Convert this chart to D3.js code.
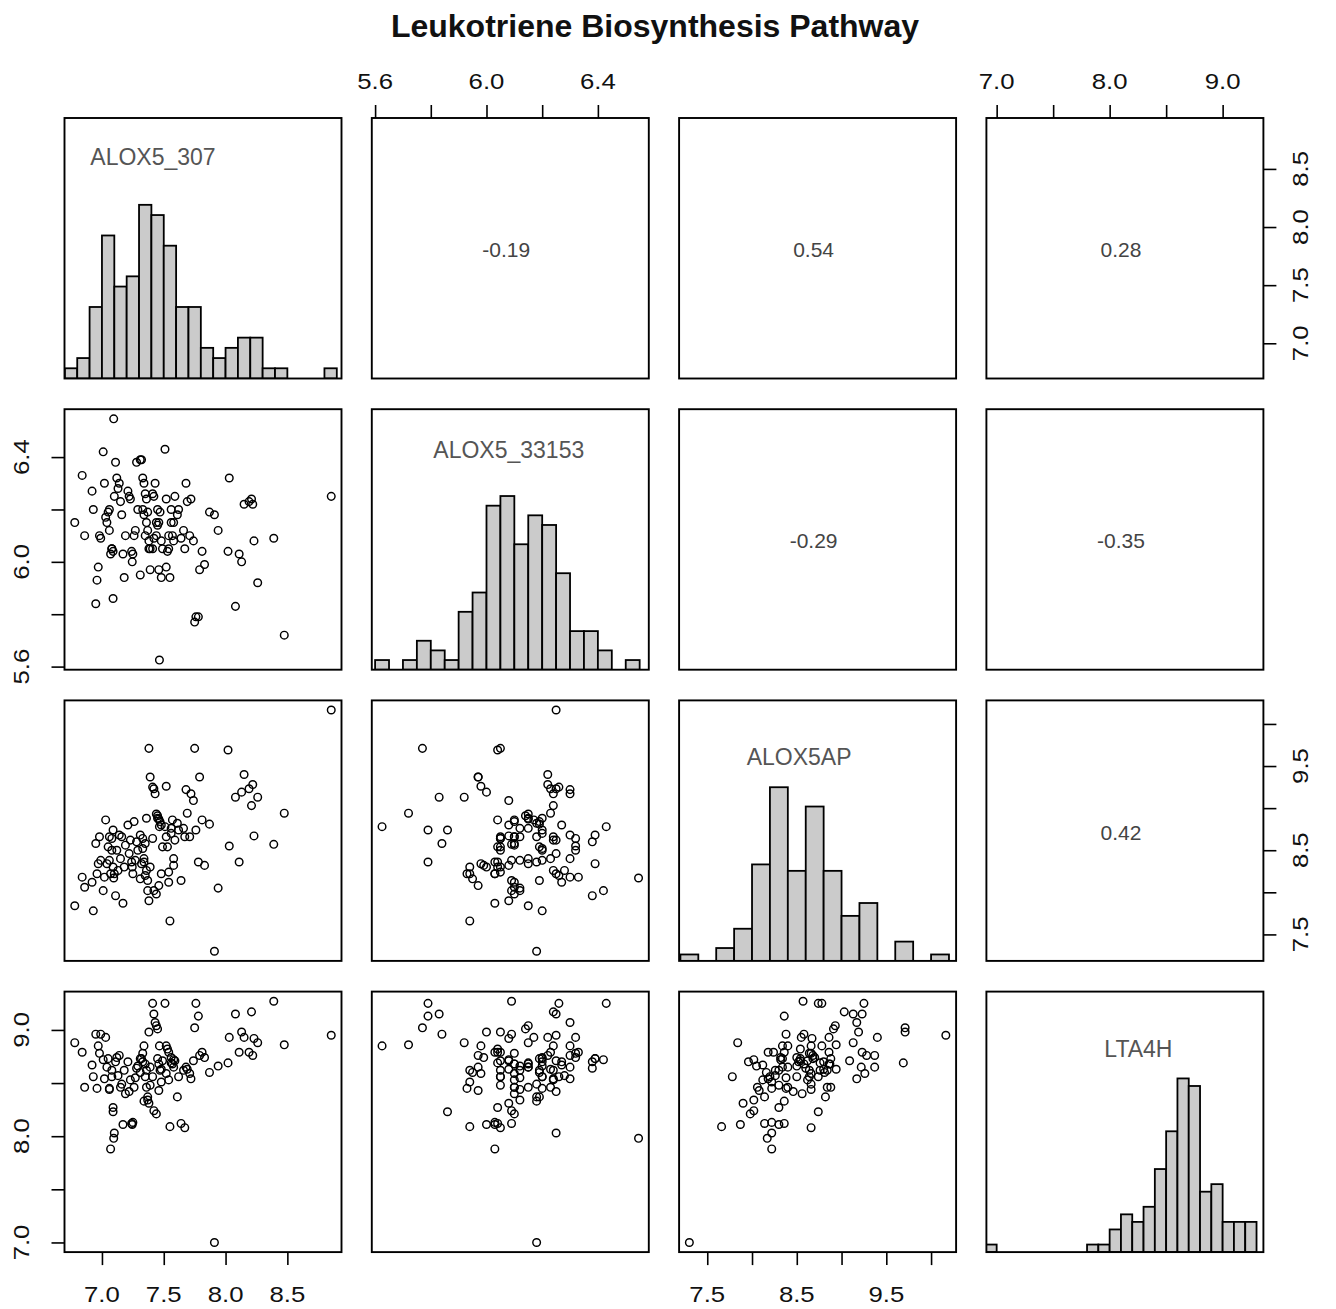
<!DOCTYPE html>
<html><head><meta charset="utf-8">
<script src="https://cdn.jsdelivr.net/npm/d3@7"></script>
<style>body{margin:0;background:#fff}</style>
</head><body>
<svg id="chart" width="1336" height="1309"></svg>
<script>
// ---------------- DATA ----------------
const varNames = ["ALOX5_307", "ALOX5_33153", "ALOX5AP", "LTA4H"];
const chartTitle = "Leukotriene Biosynthesis Pathway";

const alox5_307 = [6.78,6.84,6.86,6.92,6.93,6.95,6.96,6.97,6.98,6.99,
 7.01,7.02,7.03,7.04,7.05,7.06,7.07,7.08,7.08,7.09,7.09,7.095,7.06,7.10,
 7.11,7.12,7.13,7.14,7.15,7.16,7.17,7.18,7.19,
 7.21,7.22,7.23,7.24,7.245,7.25,7.26,7.27,7.28,7.29,
 7.31,7.32,7.33,7.34,7.35,7.36,7.37,7.37,7.38,7.38,7.39,7.39,7.31,7.33,7.35,7.36,7.34,
 7.465,7.41,7.42,7.43,7.44,7.45,7.46,7.47,7.48,7.49,7.42,7.44,7.46,7.48,7.41,7.45,
 7.51,7.52,7.53,7.54,7.55,7.56,7.57,7.58,7.59,7.52,7.54,7.56,7.58,
 7.61,7.62,7.64,7.66,7.67,7.68,7.69,
 7.75,7.72,7.74,7.76,7.78,7.79,7.71,
 7.81,7.83,7.87,7.91,7.94,8.02,8.03,8.08,
 8.11,8.13,8.15,8.19,8.21,8.23,8.26,8.22,8.39,8.475,8.855];

const alox5_33153 = [6.15,6.33,6.10,6.27,6.20,5.84,5.93,5.98,6.10,6.09,
 6.42,6.30,6.17,6.15,6.19,6.20,6.03,6.05,6.05,6.04,5.86,6.546,6.12,6.25,
 6.38,6.32,6.28,6.30,6.23,6.18,6.03,5.94,6.10,
 6.27,6.25,6.24,6.04,6.00,6.03,6.10,6.12,6.38,6.20,
 6.39,6.39,6.32,6.30,6.26,6.15,6.19,6.12,6.05,6.08,6.05,5.97,5.95,6.20,6.10,6.24,6.18,
 5.625,6.26,6.25,6.30,6.15,6.14,6.15,6.19,6.08,6.05,6.09,6.10,5.97,5.94,6.05,6.20,
 6.43,6.24,6.04,6.05,5.94,6.20,6.10,6.15,6.25,5.98,6.10,6.15,6.08,
 6.18,6.20,6.09,6.12,6.05,6.30,6.23,
 5.77,6.24,6.08,5.79,5.79,5.97,6.10,
 6.04,5.99,6.19,6.18,6.12,6.04,6.32,5.83,
 6.03,6.00,6.22,6.23,6.24,6.08,5.92,6.22,6.09,5.72,6.25];

const alox5ap = [7.84,8.18,8.06,8.12,7.78,8.58,8.22,8.34,8.66,8.38,
 8.02,8.18,8.86,8.34,8.54,8.38,8.22,8.64,8.50,8.30,8.74,8.17,8.66,8.22,
 7.96,8.50,8.26,8.68,8.40,8.66,7.87,8.30,8.56,
 8.80,8.46,8.62,8.36,8.30,8.22,8.84,8.38,8.60,8.50,
 8.68,8.34,8.64,8.40,8.20,8.88,8.14,8.02,9.71,7.90,8.30,9.37,8.16,8.52,8.58,8.26,8.36,
 8.78,9.25,9.23,9.17,8.93,8.91,8.87,8.84,8.80,8.54,8.02,7.98,8.08,8.22,8.64,8.88,
 8.78,8.66,8.54,8.24,7.66,8.70,8.86,8.40,8.62,9.26,8.12,8.76,8.32,
 8.82,8.74,8.14,8.76,8.66,9.22,8.94,
 9.71,9.17,9.09,8.74,8.36,9.37,8.66,
 8.86,8.32,8.81,7.30,8.05,9.69,8.55,9.13,
 8.36,9.19,9.40,9.23,9.03,8.67,9.13,9.28,8.57,8.94,10.165];

const lta4h = [8.88,8.79,8.46,8.67,8.56,8.96,8.45,8.85,8.78,8.96,
 8.72,8.54,8.93,8.65,8.73,8.45,7.88,8.62,8.56,8.27,8.23,7.98,8.44,8.03,
 8.70,8.74,8.57,8.76,8.46,8.49,8.11,8.62,8.40,
 8.70,8.42,8.53,8.12,8.11,8.13,8.46,8.55,8.64,8.66,
 8.73,8.73,8.78,8.85,8.56,8.46,8.37,8.34,8.98,8.31,8.48,8.65,8.60,8.70,8.68,8.62,8.33,
 8.85,9.25,9.15,9.07,9.04,9.01,8.68,8.62,8.63,8.71,8.24,8.21,8.43,8.51,8.56,8.73,
 9.25,8.85,8.82,8.79,8.09,8.74,8.68,8.65,8.71,8.59,8.53,8.69,8.72,
 8.37,8.56,8.12,8.62,8.08,8.65,8.63,
 9.02,8.54,8.71,9.25,9.13,8.76,8.59,
 8.79,8.74,8.60,7.00,8.66,8.69,8.93,9.15,
 8.79,8.98,8.93,8.79,9.17,8.92,8.88,8.76,9.27,8.86,8.95];

// histogram breaks and counts
const hist307Breaks = [6.7,6.8,6.9,7.0,7.1,7.2,7.3,7.4,7.5,7.6,7.7,7.8,7.9,8.0,8.1,8.2,8.3,8.4,8.5,8.6,8.7,8.8,8.9];
const hist307Counts = [1,2,7,14,9,10,17,16,13,7,7,3,2,3,4,4,1,1,0,0,0,1];
const hist33153Breaks = [5.60,5.65,5.70,5.75,5.80,5.85,5.90,5.95,6.00,6.05,6.10,6.15,6.20,6.25,6.30,6.35,6.40,6.45,6.50,6.55];
const hist33153Counts = [1,0,1,3,2,1,6,8,17,18,13,16,15,10,4,4,2,0,1];
const histAPBreaks = [7.2,7.4,7.6,7.8,8.0,8.2,8.4,8.6,8.8,9.0,9.2,9.4,9.6,9.8,10.0,10.2];
const histAPCounts = [1,0,2,5,15,27,14,24,14,7,9,0,3,0,1];
const histLTABreaks = [6.9,7.0,7.1,7.2,7.3,7.4,7.5,7.6,7.7,7.8,7.9,8.0,8.1,8.2,8.3,8.4,8.5,8.6,8.7,8.8,8.9,9.0,9.1,9.2,9.3];
const histLTACounts = [1,0,0,0,0,0,0,0,0,1,1,3,5,4,6,11,16,23,22,8,9,4,4,4];

// correlation labels in the upper panels (row, col order)
const corLabels = ["-0.19","0.54","0.28","-0.29","-0.35","0.42"];

// axis ticks
const ticks307 = [7.0,7.5,8.0,8.5];       const labels307 = [7.0,7.5,8.0,8.5];
const ticks33153 = [5.6,5.8,6.0,6.2,6.4]; const labels33153 = [5.6,6.0,6.4];
const ticksAP = [7.5,8.0,8.5,9.0,9.5,10.0]; const labelsAP = [7.5,8.5,9.5];
const ticksLTA = [7.0,7.5,8.0,8.5,9.0];   const labelsLTA = [7.0,8.0,9.0];

// ---------------- LAYOUT ----------------
const vars = [alox5_307, alox5_33153, alox5ap, lta4h];
const hists = [[hist307Breaks,hist307Counts],[hist33153Breaks,hist33153Counts],[histAPBreaks,histAPCounts],[histLTABreaks,histLTACounts]];
const ticks = [ticks307, ticks33153, ticksAP, ticksLTA];
const tlabels = [labels307, labels33153, labelsAP, labelsLTA];
const n = 4;
const left0 = 64.5, stepX = 307.3, pW = 277;
const top0 = 118, stepY = 291.2, pH = 260.5;
const colX = d3.range(n).map(i => left0 + i*stepX);
const rowY = d3.range(n).map(i => top0 + i*stepY);
const font = "'Liberation Sans', Arial, Helvetica, sans-serif";

const dom = vars.map(v => { const e = d3.extent(v); const r = e[1]-e[0]; return [e[0]-0.04*r, e[1]+0.04*r]; });
const xS = d3.range(n).map(i => d3.scaleLinear().domain(dom[i]).range([colX[i], colX[i]+pW]));
const yS = d3.range(n).map(i => d3.scaleLinear().domain(dom[i]).range([rowY[i]+pH, rowY[i]]));

const svg = d3.select("#chart");
svg.append("rect").attr("width",1336).attr("height",1309).attr("fill","#fff");

const defs = svg.append("defs");
for (let r=0;r<n;r++) for (let c=0;c<n;c++) {
  defs.append("clipPath").attr("id",`clip${r}${c}`).append("rect")
    .attr("x",colX[c]).attr("y",rowY[r]).attr("width",pW).attr("height",pH);
}

// title
svg.append("text").attr("x",655).attr("y",37).attr("text-anchor","middle")
  .attr("font-family",font).attr("font-weight","bold").attr("font-size",32)
  .attr("fill","#111").text(chartTitle);

// panels
const labelPos = [[88.5,47],[137,49],[120,65],[152,65]];
let corIdx = 0;
for (let r=0;r<n;r++) {
  for (let c=0;c<n;c++) {
    const g = svg.append("g");
    if (r === c) {
      const [br, ct] = hists[r];
      const mx = d3.max(ct);
      const hy = d3.scaleLinear().domain([0,1.5]).range([rowY[r]+pH, rowY[r]]);
      const gb = g.append("g").attr("clip-path",`url(#clip${r}${c})`);
      gb.selectAll("rect").data(ct.map((v,k)=>({a:br[k],b:br[k+1],v})).filter(d=>d.v>0))
        .join("rect")
        .attr("x", d=>xS[c](d.a)).attr("width", d=>xS[c](d.b)-xS[c](d.a))
        .attr("y", d=>hy(d.v/mx)).attr("height", d=>hy(0)-hy(d.v/mx))
        .attr("fill","#cbcbcb").attr("stroke","#000").attr("stroke-width",1.8);
      g.append("text").attr("x",colX[c]+labelPos[r][0]).attr("y",rowY[r]+labelPos[r][1])
        .attr("text-anchor","middle").attr("font-family",font).attr("font-size",23)
        .attr("fill","#555").text(varNames[r]);
    } else if (r > c) {
      const gp = g.append("g").attr("clip-path",`url(#clip${r}${c})`);
      gp.selectAll("circle").data(d3.range(vars[0].length)).join("circle")
        .attr("cx", k=>xS[c](vars[c][k])).attr("cy", k=>yS[r](vars[r][k]))
        .attr("r",3.8).attr("fill","none").attr("stroke","#000").attr("stroke-width",1.45);
    } else {
      g.append("text").attr("x",colX[c]+pW/2-4).attr("y",rowY[r]+pH/2+9)
        .attr("text-anchor","middle").attr("font-family",font).attr("font-size",21)
        .attr("fill","#444").text(corLabels[corIdx++]);
    }
    g.append("rect").attr("x",colX[c]).attr("y",rowY[r]).attr("width",pW).attr("height",pH)
      .attr("fill","none").attr("stroke","#000").attr("stroke-width",1.9);
  }
}

// axes
const tickLen = 13;
function styleAxis(sel){
  sel.select(".domain").remove();
  sel.selectAll(".tick line").attr("stroke","#000").attr("stroke-width",1.6);
}
const fmt = d3.format(".1f");
const tickFont = 23, stretch = 1.12;
function hLabel(x, y, txt){
  svg.append("text").attr("transform",`translate(${x},${y}) scale(${stretch},1)`)
    .attr("text-anchor","middle").attr("font-family",font).attr("font-size",tickFont)
    .attr("fill","#111").text(txt);
}
function vLabel(x, y, txt){
  svg.append("text").attr("transform",`translate(${x},${y}) rotate(-90) scale(${stretch},1)`)
    .attr("text-anchor","middle").attr("font-family",font).attr("font-size",tickFont)
    .attr("fill","#111").text(txt);
}
for (let i=0;i<n;i++) {
  if (i % 2 === 0) {
    const yb = rowY[n-1]+pH;
    svg.append("g").attr("transform",`translate(0,${yb})`)
      .call(d3.axisBottom(xS[i]).tickValues(ticks[i]).tickSize(tickLen).tickFormat("")).call(styleAxis);
    tlabels[i].forEach(v => hLabel(xS[i](v), yb+50, fmt(v)));
    const xr = colX[n-1]+pW;
    svg.append("g").attr("transform",`translate(${xr},0)`)
      .call(d3.axisRight(yS[i]).tickValues(ticks[i]).tickSize(tickLen).tickFormat("")).call(styleAxis);
    tlabels[i].forEach(v => vLabel(xr+45, yS[i](v), fmt(v)));
  } else {
    const yt = rowY[0];
    svg.append("g").attr("transform",`translate(0,${yt})`)
      .call(d3.axisTop(xS[i]).tickValues(ticks[i]).tickSize(tickLen).tickFormat("")).call(styleAxis);
    tlabels[i].forEach(v => hLabel(xS[i](v), yt-29, fmt(v)));
    const xl = colX[0];
    svg.append("g").attr("transform",`translate(${xl},0)`)
      .call(d3.axisLeft(yS[i]).tickValues(ticks[i]).tickSize(tickLen).tickFormat("")).call(styleAxis);
    tlabels[i].forEach(v => vLabel(xl-36, yS[i](v), fmt(v)));
  }
}
</script>
</body></html>
